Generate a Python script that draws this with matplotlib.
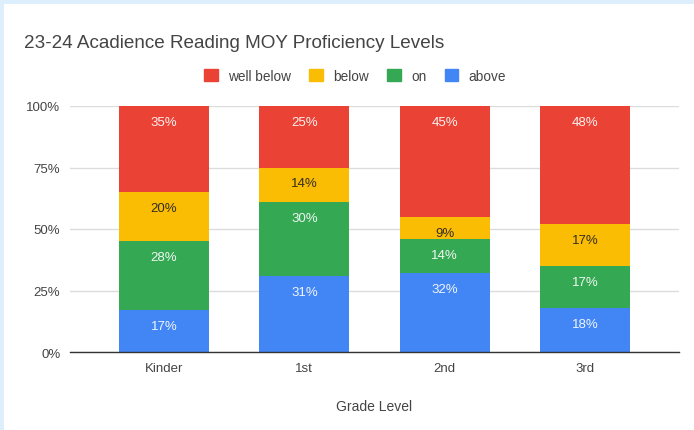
import matplotlib

matplotlib.use("Agg")
import matplotlib.pyplot as plt
from matplotlib.patches import Rectangle
import numpy as np

plt.rcParams["font.family"] = ["Liberation Sans", "DejaVu Sans"]

grades = ["Kinder", "1st", "2nd", "3rd"]
levels = ["well below", "below", "on", "above"]
above = [17, 31, 32, 18]
on = [28, 30, 14, 17]
below = [20, 14, 9, 17]
well_below = [35, 25, 45, 48]
yticks = [0, 25, 50, 75, 100]

COLORS = {
    "well below": "#EA4335",
    "below": "#FBBC04",
    "on": "#34A853",
    "above": "#4285F4",
}
LABEL_COLORS = {
    "well below": "#ffffff",
    "below": "#222222",
    "on": "#ffffff",
    "above": "#ffffff",
}

W, H = 694, 431
fig = plt.figure(figsize=(W / 100, H / 100), dpi=100)
fig.patch.set_facecolor("#DDEEFD")
# white card inside the light-blue frame
bg = fig.add_axes([4 / W, 0, 1 - 4 / W, 1 - 5 / H], zorder=-10)
bg.axis("off")
bg.add_patch(Rectangle((0, 0), 1, 1, transform=bg.transAxes, facecolor="white", edgecolor="none"))

ax = fig.add_axes([70 / W, 1 - 353 / H, (679 - 70) / W, (353 - 107) / H])
ax.set_facecolor("white")

x = np.arange(len(grades))
stack = [("above", above), ("on", on), ("below", below), ("well below", well_below)]
bottom = np.zeros(len(grades))
for name, vals in stack:
    vals = np.array(vals, dtype=float)
    ax.bar(x, vals, width=0.64, bottom=bottom, color=COLORS[name], zorder=3)
    for xi, b, v in zip(x, bottom, vals):
        ax.annotate(f"{int(v)}%", (xi, b + v), xytext=(0, -11.5), textcoords="offset points",
                    ha="center", va="center", fontsize=9.5, color=LABEL_COLORS[name],
                    alpha=0.92, zorder=4)
    bottom += vals

ax.set_xlim(-0.67, 3.67)
ax.set_ylim(0, 100)
ax.set_yticks(yticks)
ax.set_yticklabels([f"{t}%" for t in yticks])
ax.set_xticks(x)
ax.set_xticklabels(grades)
ax.tick_params(axis="both", length=0, labelsize=9.5, labelcolor="#444444")
ax.tick_params(axis="y", pad=7)
ax.tick_params(axis="x", pad=7)
for s in ["top", "right", "left"]:
    ax.spines[s].set_visible(False)
ax.spines["bottom"].set_color("#333333")
ax.spines["bottom"].set_linewidth(1.0)
ax.spines["bottom"].set_zorder(5)
ax.grid(axis="y", color="#dcdcdc", linewidth=1.0, zorder=0)
ax.set_axisbelow(True)

ax.set_xlabel("Grade Level", fontsize=10, color="#444444", labelpad=18)

fig.text(24 / W, 1 - 43 / H, "23-24 Acadience Reading MOY Proficiency Levels",
         fontsize=13.6, color="#444444", ha="left", va="center")

handles = [Rectangle((0, 0), 1, 1, color=COLORS[n]) for n in levels]
fig.legend(handles, levels, loc="center", bbox_to_anchor=(355 / W, 1 - 77 / H),
           ncol=4, frameon=False, fontsize=9.8, handlelength=1.0, handleheight=1.0,
           handletextpad=0.75, columnspacing=1.35, labelcolor="#444444",
           borderpad=0, borderaxespad=0)

fig.savefig("out.png", dpi=100, facecolor=fig.get_facecolor())
